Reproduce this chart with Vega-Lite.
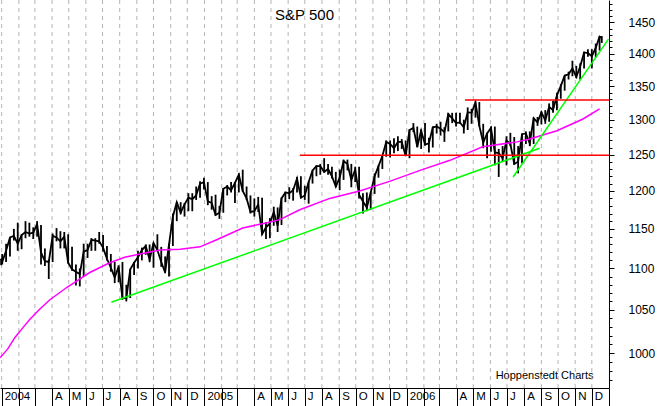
{
  "$schema": "https://vega.github.io/schema/vega-lite/v6.json",
  "width": 609,
  "height": 388,
  "autosize": {"type": "none"},
  "padding": {"left": 0, "top": 0, "right": 49, "bottom": 18},
  "background": "white",
  "config": {
    "view": {"stroke": null},
    "font": "Liberation Sans",
    "axis": {"labelFont": "Liberation Sans", "titleFont": "Liberation Sans"}
  },
  "title": {
    "text": "S&P 500",
    "font": "Liberation Sans",
    "fontSize": 15,
    "fontWeight": "normal",
    "color": "black",
    "anchor": "middle",
    "frame": "group",
    "offset": -37,
    "baseline": "alphabetic"
  },
  "datasets": {
    "months": [
      {"d":"2004-01-01"},{"d":"2004-02-01"},{"d":"2004-03-01"},{"d":"2004-04-01"},{"d":"2004-05-01"},{"d":"2004-06-01"},{"d":"2004-07-01"},{"d":"2004-08-01"},{"d":"2004-09-01"},{"d":"2004-10-01"},{"d":"2004-11-01"},{"d":"2004-12-01"},
      {"d":"2005-01-01"},{"d":"2005-02-01"},{"d":"2005-03-01"},{"d":"2005-04-01"},{"d":"2005-05-01"},{"d":"2005-06-01"},{"d":"2005-07-01"},{"d":"2005-08-01"},{"d":"2005-09-01"},{"d":"2005-10-01"},{"d":"2005-11-01"},{"d":"2005-12-01"},
      {"d":"2006-01-01"},{"d":"2006-02-01"},{"d":"2006-03-01"},{"d":"2006-04-01"},{"d":"2006-05-01"},{"d":"2006-06-01"},{"d":"2006-07-01"},{"d":"2006-08-01"},{"d":"2006-09-01"},{"d":"2006-10-01"},{"d":"2006-11-01"},{"d":"2006-12-01"}
    ],
    "px": [
      {"d":"2003-12-31","h":1112,"l":1104,"v":1112},
      {"d":"2004-01-02","h":1118,"l":1105,"v":1108},
      {"d":"2004-01-09","h":1131,"l":1108,"v":1122},
      {"d":"2004-01-16","h":1139,"l":1115,"v":1139},
      {"d":"2004-01-23","h":1150,"l":1135,"v":1141},
      {"d":"2004-01-30","h":1158,"l":1122,"v":1131},
      {"d":"2004-02-06","h":1143,"l":1124,"v":1142},
      {"d":"2004-02-13","h":1160,"l":1138,"v":1146},
      {"d":"2004-02-20","h":1158,"l":1140,"v":1144},
      {"d":"2004-02-27","h":1152,"l":1137,"v":1145},
      {"d":"2004-03-05","h":1160,"l":1140,"v":1156},
      {"d":"2004-03-12","h":1155,"l":1105,"v":1120},
      {"d":"2004-03-19","h":1125,"l":1103,"v":1109},
      {"d":"2004-03-26","h":1111,"l":1087,"v":1108},
      {"d":"2004-04-02","h":1144,"l":1108,"v":1141},
      {"d":"2004-04-09","h":1151,"l":1134,"v":1139},
      {"d":"2004-04-16","h":1147,"l":1125,"v":1134},
      {"d":"2004-04-23","h":1146,"l":1125,"v":1140},
      {"d":"2004-04-30","h":1143,"l":1106,"v":1107},
      {"d":"2004-05-07","h":1127,"l":1097,"v":1099},
      {"d":"2004-05-14","h":1105,"l":1079,"v":1096},
      {"d":"2004-05-21","h":1100,"l":1078,"v":1093},
      {"d":"2004-05-28","h":1131,"l":1090,"v":1121},
      {"d":"2004-06-04","h":1131,"l":1113,"v":1123},
      {"d":"2004-06-11","h":1138,"l":1122,"v":1136},
      {"d":"2004-06-18","h":1138,"l":1122,"v":1135},
      {"d":"2004-06-25","h":1146,"l":1131,"v":1134},
      {"d":"2004-07-02","h":1142,"l":1121,"v":1126},
      {"d":"2004-07-09","h":1128,"l":1110,"v":1112},
      {"d":"2004-07-16","h":1118,"l":1096,"v":1101},
      {"d":"2004-07-23","h":1108,"l":1082,"v":1089},
      {"d":"2004-07-30","h":1104,"l":1083,"v":1102},
      {"d":"2004-08-06","h":1108,"l":1062,"v":1064},
      {"d":"2004-08-13","h":1080,"l":1060,"v":1064},
      {"d":"2004-08-20","h":1099,"l":1064,"v":1099},
      {"d":"2004-08-27","h":1108,"l":1092,"v":1107},
      {"d":"2004-09-03","h":1122,"l":1100,"v":1114},
      {"d":"2004-09-10","h":1126,"l":1110,"v":1123},
      {"d":"2004-09-17","h":1130,"l":1117,"v":1128},
      {"d":"2004-09-24","h":1130,"l":1108,"v":1111},
      {"d":"2004-10-01","h":1132,"l":1101,"v":1132},
      {"d":"2004-10-08","h":1143,"l":1122,"v":1123},
      {"d":"2004-10-15","h":1127,"l":1102,"v":1108},
      {"d":"2004-10-22","h":1115,"l":1094,"v":1095},
      {"d":"2004-10-29","h":1131,"l":1090,"v":1130},
      {"d":"2004-11-05","h":1170,"l":1128,"v":1166},
      {"d":"2004-11-12","h":1185,"l":1160,"v":1185},
      {"d":"2004-11-19","h":1185,"l":1169,"v":1171},
      {"d":"2004-11-26","h":1184,"l":1166,"v":1182},
      {"d":"2004-12-03","h":1197,"l":1173,"v":1191},
      {"d":"2004-12-10","h":1197,"l":1173,"v":1189},
      {"d":"2004-12-17","h":1206,"l":1188,"v":1194},
      {"d":"2004-12-24","h":1213,"l":1191,"v":1210},
      {"d":"2004-12-31","h":1218,"l":1202,"v":1212},
      {"d":"2005-01-07","h":1212,"l":1181,"v":1186},
      {"d":"2005-01-14","h":1193,"l":1175,"v":1184},
      {"d":"2005-01-21","h":1195,"l":1167,"v":1168},
      {"d":"2005-01-28","h":1180,"l":1163,"v":1171},
      {"d":"2005-02-04","h":1204,"l":1171,"v":1203},
      {"d":"2005-02-11","h":1208,"l":1194,"v":1206},
      {"d":"2005-02-18","h":1212,"l":1198,"v":1201},
      {"d":"2005-02-25","h":1212,"l":1184,"v":1211},
      {"d":"2005-03-04","h":1224,"l":1198,"v":1222},
      {"d":"2005-03-11","h":1229,"l":1199,"v":1200},
      {"d":"2005-03-18","h":1206,"l":1188,"v":1190},
      {"d":"2005-03-25","h":1194,"l":1170,"v":1172},
      {"d":"2005-04-01","h":1190,"l":1166,"v":1173},
      {"d":"2005-04-08","h":1192,"l":1172,"v":1182},
      {"d":"2005-04-15","h":1191,"l":1142,"v":1143},
      {"d":"2005-04-22","h":1159,"l":1137,"v":1152},
      {"d":"2005-04-29","h":1164,"l":1138,"v":1157},
      {"d":"2005-05-06","h":1179,"l":1154,"v":1172},
      {"d":"2005-05-13","h":1178,"l":1146,"v":1154},
      {"d":"2005-05-20","h":1191,"l":1155,"v":1190},
      {"d":"2005-05-27","h":1199,"l":1185,"v":1198},
      {"d":"2005-06-03","h":1205,"l":1189,"v":1197},
      {"d":"2005-06-10","h":1204,"l":1187,"v":1201},
      {"d":"2005-06-17","h":1219,"l":1198,"v":1217},
      {"d":"2005-06-24","h":1220,"l":1190,"v":1191},
      {"d":"2005-07-01","h":1207,"l":1188,"v":1194},
      {"d":"2005-07-08","h":1212,"l":1183,"v":1212},
      {"d":"2005-07-15","h":1228,"l":1210,"v":1228},
      {"d":"2005-07-22","h":1235,"l":1220,"v":1234},
      {"d":"2005-07-29","h":1237,"l":1222,"v":1234},
      {"d":"2005-08-05","h":1245,"l":1225,"v":1226},
      {"d":"2005-08-12","h":1237,"l":1222,"v":1230},
      {"d":"2005-08-19","h":1233,"l":1217,"v":1220},
      {"d":"2005-08-26","h":1226,"l":1205,"v":1206},
      {"d":"2005-09-02","h":1229,"l":1201,"v":1218},
      {"d":"2005-09-09","h":1243,"l":1215,"v":1241},
      {"d":"2005-09-16","h":1243,"l":1228,"v":1237},
      {"d":"2005-09-23","h":1237,"l":1205,"v":1215},
      {"d":"2005-09-30","h":1233,"l":1212,"v":1229},
      {"d":"2005-10-07","h":1233,"l":1190,"v":1195},
      {"d":"2005-10-14","h":1197,"l":1170,"v":1186},
      {"d":"2005-10-21","h":1198,"l":1173,"v":1178},
      {"d":"2005-10-28","h":1198,"l":1175,"v":1198},
      {"d":"2005-11-04","h":1224,"l":1196,"v":1220},
      {"d":"2005-11-11","h":1235,"l":1218,"v":1234},
      {"d":"2005-11-18","h":1249,"l":1230,"v":1248},
      {"d":"2005-11-25","h":1270,"l":1247,"v":1268},
      {"d":"2005-12-02","h":1270,"l":1246,"v":1265},
      {"d":"2005-12-09","h":1273,"l":1252,"v":1259},
      {"d":"2005-12-16","h":1276,"l":1255,"v":1268},
      {"d":"2005-12-23","h":1272,"l":1258,"v":1268},
      {"d":"2005-12-30","h":1270,"l":1248,"v":1248},
      {"d":"2006-01-06","h":1286,"l":1245,"v":1285},
      {"d":"2006-01-13","h":1295,"l":1282,"v":1288},
      {"d":"2006-01-20","h":1290,"l":1260,"v":1261},
      {"d":"2006-01-27","h":1286,"l":1258,"v":1284},
      {"d":"2006-02-03","h":1295,"l":1263,"v":1264},
      {"d":"2006-02-10","h":1274,"l":1253,"v":1266},
      {"d":"2006-02-17","h":1290,"l":1260,"v":1289},
      {"d":"2006-02-24","h":1294,"l":1280,"v":1290},
      {"d":"2006-03-03","h":1297,"l":1277,"v":1287},
      {"d":"2006-03-10","h":1289,"l":1268,"v":1282},
      {"d":"2006-03-17","h":1310,"l":1283,"v":1308},
      {"d":"2006-03-24","h":1310,"l":1295,"v":1302},
      {"d":"2006-03-31","h":1310,"l":1290,"v":1295},
      {"d":"2006-04-07","h":1310,"l":1294,"v":1296},
      {"d":"2006-04-14","h":1300,"l":1280,"v":1289},
      {"d":"2006-04-21","h":1318,"l":1285,"v":1311},
      {"d":"2006-04-28","h":1316,"l":1294,"v":1310},
      {"d":"2006-05-05","h":1327,"l":1303,"v":1325},
      {"d":"2006-05-12","h":1326,"l":1290,"v":1291},
      {"d":"2006-05-19","h":1294,"l":1259,"v":1267},
      {"d":"2006-05-26","h":1281,"l":1245,"v":1280},
      {"d":"2006-06-02","h":1290,"l":1254,"v":1288},
      {"d":"2006-06-09","h":1290,"l":1235,"v":1253},
      {"d":"2006-06-16","h":1258,"l":1219,"v":1252},
      {"d":"2006-06-23","h":1262,"l":1240,"v":1245},
      {"d":"2006-06-30","h":1276,"l":1235,"v":1270},
      {"d":"2006-07-07","h":1281,"l":1262,"v":1265},
      {"d":"2006-07-14","h":1275,"l":1236,"v":1237},
      {"d":"2006-07-21","h":1262,"l":1224,"v":1240},
      {"d":"2006-07-28","h":1280,"l":1238,"v":1279},
      {"d":"2006-08-04","h":1283,"l":1265,"v":1280},
      {"d":"2006-08-11","h":1283,"l":1262,"v":1266},
      {"d":"2006-08-18","h":1303,"l":1265,"v":1302},
      {"d":"2006-08-25","h":1304,"l":1291,"v":1296},
      {"d":"2006-09-01","h":1312,"l":1293,"v":1311},
      {"d":"2006-09-08","h":1314,"l":1294,"v":1299},
      {"d":"2006-09-15","h":1324,"l":1297,"v":1319},
      {"d":"2006-09-22","h":1328,"l":1310,"v":1314},
      {"d":"2006-09-29","h":1340,"l":1314,"v":1336},
      {"d":"2006-10-06","h":1353,"l":1331,"v":1350},
      {"d":"2006-10-13","h":1366,"l":1343,"v":1366},
      {"d":"2006-10-20","h":1372,"l":1360,"v":1368},
      {"d":"2006-10-27","h":1389,"l":1365,"v":1377},
      {"d":"2006-11-03","h":1381,"l":1362,"v":1364},
      {"d":"2006-11-10","h":1385,"l":1360,"v":1380},
      {"d":"2006-11-17","h":1403,"l":1377,"v":1402},
      {"d":"2006-11-24","h":1407,"l":1395,"v":1401},
      {"d":"2006-12-01","h":1407,"l":1377,"v":1396},
      {"d":"2006-12-08","h":1416,"l":1394,"v":1409},
      {"d":"2006-12-15","h":1428,"l":1405,"v":1427},
      {"d":"2006-12-19","h":1428,"l":1417,"v":1425}
    ],
    "ma": [
      {"d":"2003-12-29","v":995},
      {"d":"2004-01-12","v":1005},
      {"d":"2004-01-25","v":1018},
      {"d":"2004-02-08","v":1029},
      {"d":"2004-02-21","v":1039},
      {"d":"2004-03-10","v":1051},
      {"d":"2004-03-28","v":1062},
      {"d":"2004-04-28","v":1077},
      {"d":"2004-06-08","v":1095},
      {"d":"2004-07-14","v":1107},
      {"d":"2004-08-10","v":1114},
      {"d":"2004-09-07","v":1118},
      {"d":"2004-10-13","v":1123},
      {"d":"2004-11-18","v":1124},
      {"d":"2004-12-24","v":1127},
      {"d":"2005-01-23","v":1136},
      {"d":"2005-03-11","v":1151},
      {"d":"2005-04-24","v":1158},
      {"d":"2005-05-17","v":1162},
      {"d":"2005-06-22","v":1175},
      {"d":"2005-08-15","v":1190},
      {"d":"2005-10-08","v":1200},
      {"d":"2005-12-01","v":1213},
      {"d":"2006-01-25","v":1228},
      {"d":"2006-03-20","v":1242},
      {"d":"2006-05-18","v":1261},
      {"d":"2006-07-19","v":1268},
      {"d":"2006-08-11","v":1272},
      {"d":"2006-09-29","v":1284},
      {"d":"2006-11-15","v":1301},
      {"d":"2006-12-15","v":1316}
    ],
    "tl": [
      {"d":"2004-07-17","v":1059,"k":"g1"},
      {"d":"2006-08-29","v":1259,"k":"g1"},
      {"d":"2006-07-12","v":1219,"k":"g2"},
      {"d":"2006-12-31","v":1423,"k":"g2"},
      {"d":"2005-06-22","v":1249,"k":"r1"},
      {"d":"2007-01-01","v":1249,"k":"r1"},
      {"d":"2006-04-16","v":1329,"k":"r2"},
      {"d":"2007-01-01","v":1329,"k":"r2"}
    ]
  },
  "encoding": {
    "x": {
      "field": "d",
      "type": "temporal",
      "scale": {
        "type": "utc",
        "nice": false,
        "domain": [
          {"year": 2003, "month": 12, "date": 29, "utc": true},
          {"year": 2007, "month": 1, "date": 1, "utc": true}
        ]
      },
      "axis": {
        "orient": "bottom",
        "title": "Hoppenstedt Charts",
        "titleFontSize": 11,
        "titleFontWeight": "normal",
        "titleColor": "black",
        "titleX": 593,
        "titleY": -10,
        "titleAlign": "right",
        "titleBaseline": "alphabetic",
        "values": [
          {"year":2004,"month":1,"date":1,"utc":true},{"year":2004,"month":2,"date":1,"utc":true},{"year":2004,"month":3,"date":1,"utc":true},{"year":2004,"month":4,"date":1,"utc":true},{"year":2004,"month":5,"date":1,"utc":true},{"year":2004,"month":6,"date":1,"utc":true},{"year":2004,"month":7,"date":1,"utc":true},{"year":2004,"month":8,"date":1,"utc":true},{"year":2004,"month":9,"date":1,"utc":true},{"year":2004,"month":10,"date":1,"utc":true},{"year":2004,"month":11,"date":1,"utc":true},{"year":2004,"month":12,"date":1,"utc":true},
          {"year":2005,"month":1,"date":1,"utc":true},{"year":2005,"month":2,"date":1,"utc":true},{"year":2005,"month":3,"date":1,"utc":true},{"year":2005,"month":4,"date":1,"utc":true},{"year":2005,"month":5,"date":1,"utc":true},{"year":2005,"month":6,"date":1,"utc":true},{"year":2005,"month":7,"date":1,"utc":true},{"year":2005,"month":8,"date":1,"utc":true},{"year":2005,"month":9,"date":1,"utc":true},{"year":2005,"month":10,"date":1,"utc":true},{"year":2005,"month":11,"date":1,"utc":true},{"year":2005,"month":12,"date":1,"utc":true},
          {"year":2006,"month":1,"date":1,"utc":true},{"year":2006,"month":2,"date":1,"utc":true},{"year":2006,"month":3,"date":1,"utc":true},{"year":2006,"month":4,"date":1,"utc":true},{"year":2006,"month":5,"date":1,"utc":true},{"year":2006,"month":6,"date":1,"utc":true},{"year":2006,"month":7,"date":1,"utc":true},{"year":2006,"month":8,"date":1,"utc":true},{"year":2006,"month":9,"date":1,"utc":true},{"year":2006,"month":10,"date":1,"utc":true},{"year":2006,"month":11,"date":1,"utc":true},{"year":2006,"month":12,"date":1,"utc":true},
          {"year":2007,"month":1,"date":1,"utc":true}
        ],
        "labelExpr": "utcyear(datum.value) >= 2007 ? '' : (utcmonth(datum.value) == 0 ? utcFormat(datum.value, '%Y') : (utcmonth(datum.value) < 3 ? '' : substring('JFMAMJJASOND', utcmonth(datum.value), utcmonth(datum.value) + 1)))",
        "labelAlign": "left",
        "labelBaseline": "alphabetic",
        "labelOffset": 2.5,
        "labelPadding": -6.5,
        "labelFontSize": 11.5,
        "labelColor": "black",
        "labelOverlap": false,
        "labelBound": false,
        "labelFlush": false,
        "tickSize": 18,
        "tickColor": "black",
        "tickWidth": 1,
        "domainColor": "black",
        "domainWidth": 1,
        "grid": false
      }
    },
    "y": {
      "field": "v",
      "type": "quantitative",
      "scale": {"type": "log", "domain": [961.8, 1487], "nice": false, "zero": false},
      "axis": {
        "orient": "right",
        "title": null,
        "values": [970,980,990,1000,1010,1020,1030,1040,1050,1060,1070,1080,1090,1100,1110,1120,1130,1140,1150,1160,1170,1180,1190,1200,1210,1220,1230,1240,1250,1260,1270,1280,1290,1300,1310,1320,1330,1340,1350,1360,1370,1380,1390,1400,1410,1420,1430,1440,1450,1460,1470,1480],
        "format": "d",
        "labelExpr": "datum.value % 50 === 0 ? datum.label : ''",
        "tickSize": {"condition": {"test": "datum.value % 50 === 0", "value": 5}, "value": 3},
        "tickColor": "black",
        "domainColor": "black",
        "labelColor": "black",
        "labelFontSize": 12,
        "labelPadding": 14,
        "labelAlign": "left",
        "labelBaseline": "middle",
        "labelOverlap": false,
        "labelBound": false,
        "labelFlush": false,
        "grid": false
      }
    }
  },
  "layer": [
    {
      "data": {"name": "months"},
      "mark": {"type": "rule", "color": "#b4b4b4", "strokeWidth": 1, "strokeDash": [4, 4]},
      "encoding": {"y": null}
    },
    {
      "data": {"name": "px"},
      "mark": {"type": "rule", "color": "black", "strokeWidth": 1.8},
      "encoding": {
        "y": {
          "field": "l",
          "type": "quantitative",
          "scale": {"type": "log", "domain": [961.8, 1487], "nice": false, "zero": false},
          "axis": {
            "orient": "right",
            "title": null,
            "values": [970,980,990,1000,1010,1020,1030,1040,1050,1060,1070,1080,1090,1100,1110,1120,1130,1140,1150,1160,1170,1180,1190,1200,1210,1220,1230,1240,1250,1260,1270,1280,1290,1300,1310,1320,1330,1340,1350,1360,1370,1380,1390,1400,1410,1420,1430,1440,1450,1460,1470,1480],
            "format": "d",
            "labelExpr": "datum.value % 50 === 0 ? datum.label : ''",
            "tickSize": {"condition": {"test": "datum.value % 50 === 0", "value": 5}, "value": 3},
            "tickColor": "black",
            "domainColor": "black",
            "labelColor": "black",
            "labelFontSize": 12,
            "labelPadding": 14,
            "labelAlign": "left",
            "labelBaseline": "middle",
            "labelOverlap": false,
            "labelBound": false,
            "labelFlush": false,
            "grid": false
          }
        },
        "y2": {"field": "h"}
      }
    },
    {
      "data": {"name": "px"},
      "mark": {"type": "line", "color": "black", "strokeWidth": 1.8}
    },
    {
      "data": {"name": "ma"},
      "mark": {"type": "line", "color": "#ff00ff", "strokeWidth": 1.5}
    },
    {
      "data": {"name": "tl"},
      "mark": {"type": "line", "strokeWidth": 1.5},
      "encoding": {
        "color": {
          "field": "k",
          "type": "nominal",
          "scale": {"domain": ["g1", "g2", "r1", "r2"], "range": ["#00ff00", "#00ff00", "#ff0000", "#ff0000"]},
          "legend": null
        }
      }
    }
  ]
}
